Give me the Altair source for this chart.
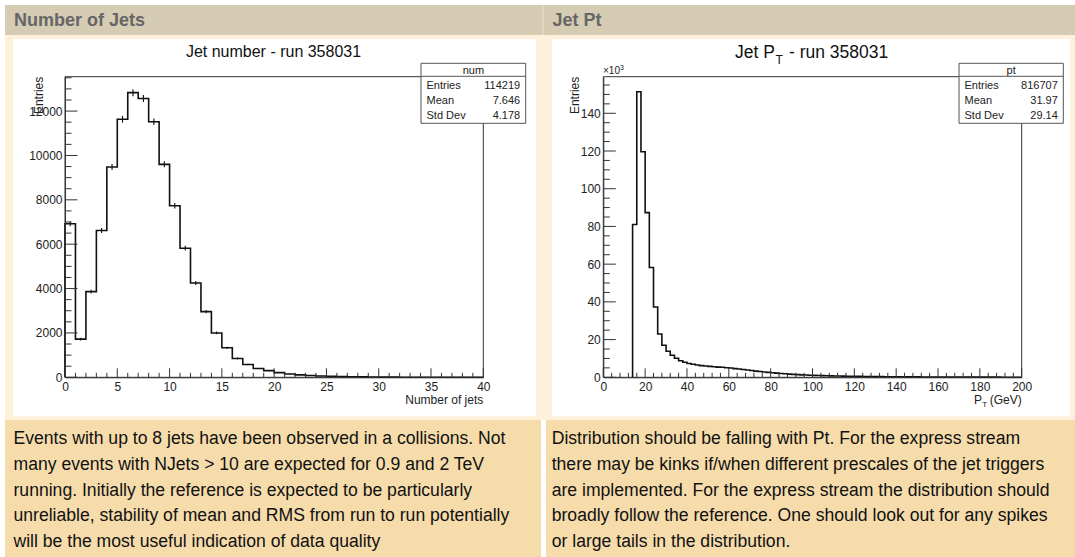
import altair as alt
import pandas as pd

W, H = 1075, 557
FONT = "Liberation Sans"

# ------------------------------------------------------------------ data
# Number of jets: 40 bins of width 1 from 0 to 40
njet_counts = [6920, 1720, 3860, 6620, 9480, 11630, 12830, 12570, 11520, 9600,
               7730, 5820, 4250, 2960, 2000, 1330, 850, 580, 400, 300,
               210, 150, 110, 80, 60, 45, 33, 25, 18, 13,
               10, 7, 5, 4, 3, 2, 2, 1, 1, 1]
njet_first_edge = 0
njet_bin_width = 1

# Jet pT: bins of width 2 GeV from 14 to 200, entries in units of 10^3
pt_counts = [81.0, 151.4, 119.6, 87.3, 58.2, 37.3, 23.0, 17.0, 13.8, 11.7,
             10.1, 8.8, 8.0, 7.3, 6.9, 6.5, 6.2, 6.0, 5.8, 5.6,
             5.4, 5.3, 5.1, 4.9, 4.6, 4.4, 4.1, 3.9, 3.6, 3.3,
             3.1, 2.8, 2.6, 2.4, 2.2, 2.0, 1.85, 1.7, 1.55, 1.42,
             1.3, 1.2, 1.1, 1.0, 0.93, 0.87, 0.81, 0.76, 0.71, 0.66,
             0.62, 0.58, 0.55, 0.51, 0.48, 0.45, 0.42, 0.40, 0.37, 0.35,
             0.33, 0.31, 0.29, 0.27, 0.26, 0.24, 0.23, 0.21, 0.20, 0.19,
             0.18, 0.17, 0.16, 0.15, 0.14, 0.13, 0.125, 0.12, 0.11, 0.105,
             0.10, 0.095, 0.09, 0.085, 0.08, 0.078, 0.074, 0.07, 0.066, 0.063,
             0.06, 0.057, 0.054]
pt_first_edge = 14
pt_bin_width = 2

njet_x_major = [0, 5, 10, 15, 20, 25, 30, 35, 40]
njet_x_minor = [v for v in range(0, 41) if v % 5]
njet_y_major = [0, 2000, 4000, 6000, 8000, 10000, 12000]
njet_y_minor = [v for v in range(0, 13501, 500) if v % 2000]
pt_x_major = [0, 20, 40, 60, 80, 100, 120, 140, 160, 180, 200]
pt_x_minor = [v for v in range(0, 201, 4) if v % 20]
pt_y_major = [0, 20, 40, 60, 80, 100, 120, 140]
pt_y_minor = [v for v in range(0, 156, 5) if v % 20]

stat_names = ["Entries", "Mean", "Std Dev"]
njet_stat_values = ["114219", "7.646", "4.178"]
pt_stat_values = ["816707", "31.97", "29.14"]

desc_left = [
    "Events with up to 8 jets have been observed in a collisions. Not",
    "many events with NJets > 10 are expected for 0.9 and 2 TeV",
    "running. Initially the reference is expected to be particularly",
    "unreliable, stability of mean and RMS from run to run potentially",
    "will be the most useful indication of data quality",
]
desc_right = [
    "Distribution should be falling with Pt. For the express stream",
    "there may be kinks if/when different prescales of the jet triggers",
    "are implemented. For the express stream the distribution should",
    "broadly follow the reference. One should look out for any spikes",
    "or large tails in the distribution.",
]

# ------------------------------------------------------------------ helpers
DUMMY = pd.DataFrame({"d": [0]})


def box(x1, x2, y1, y2, fill=None, stroke=None, sw=1.0):
    kw = {"fill": fill if fill is not None else "transparent"}
    if stroke is not None:
        kw["stroke"] = stroke
        kw["strokeWidth"] = sw
    return alt.Chart(DUMMY).mark_rect(**kw).encode(
        x=alt.value(x1), x2=alt.value(x2), y=alt.value(y1), y2=alt.value(y2))


def hline(x1, x2, y, color="#333", sw=1.0):
    return alt.Chart(DUMMY).mark_rule(color=color, strokeWidth=sw).encode(
        x=alt.value(x1), x2=alt.value(x2), y=alt.value(y))


def txt(s, x, y, size, align="left", baseline="alphabetic", color="#111",
        weight="normal", angle=0):
    kw = dict(text=s, fontSize=size, font=FONT, align=align,
              baseline=baseline, color=color, fontWeight=weight)
    if angle:
        kw["angle"] = angle
    return alt.Chart(DUMMY).mark_text(**kw).encode(
        x=alt.value(x), y=alt.value(y))


def step_frame(counts, first, width):
    n = len(counts)
    xs = [first] + [first + i * width for i in range(n)] + [first + n * width]
    ys = [0] + list(counts) + [counts[-1]]
    return pd.DataFrame({"x": xs, "y": ys, "o": list(range(n + 2))})


def histogram(counts, first, width, xdom, xr, ydom, yr, xmaj, xmin, ymaj, ymin,
              errors):
    x0, x1 = xr
    ybot, ytop = yr
    xs = alt.Scale(domain=xdom, range=list(xr), nice=False, zero=False)
    ys = alt.Scale(domain=ydom, range=list(yr), nice=False, zero=False)
    layers = []
    # frame
    layers.append(box(x0, x1, ytop, ybot, stroke="#333", sw=1))
    # histogram outline
    layers.append(
        alt.Chart(step_frame(counts, first, width))
        .mark_line(interpolate="step-after", color="#111", strokeWidth=1.6)
        .encode(
            x=alt.X("x:Q", scale=xs, axis=alt.Axis(
                orient="bottom", offset=ybot - H, values=xmaj, ticks=False,
                tickSize=0, domainColor="#333", labelFont=FONT,
                labelFontSize=12, labelColor="#222", labelPadding=4,
                title=None, grid=False, labelFlush=False, format="d",
                zindex=2)),
            y=alt.Y("y:Q", scale=ys, axis=alt.Axis(
                orient="left", offset=-x0, values=ymaj, ticks=False,
                tickSize=0, domainColor="#333", labelFont=FONT,
                labelFontSize=12, labelColor="#222", labelPadding=3,
                title=None, grid=False, labelFlush=False, format="d",
                zindex=2)),
            order="o:Q",
        )
    )
    if errors:
        centers = [first + (i + 0.5) * width for i in range(len(counts))]
        edf = pd.DataFrame({"xc": centers, "c": counts})
        layers.append(
            alt.Chart(edf)
            .transform_calculate(lo="datum.c - 1.4*sqrt(datum.c)",
                                 hi="datum.c + 1.4*sqrt(datum.c)")
            .mark_rule(color="#111", strokeWidth=1.1)
            .encode(x=alt.X("xc:Q", scale=xs, axis=None),
                    y=alt.Y("lo:Q", scale=ys, axis=None), y2="hi:Q")
        )
    # ticks drawn inward (ROOT style)
    for vals, ln in ((xmaj, 9), (xmin, 4.5)):
        layers.append(
            alt.Chart(pd.DataFrame({"v": vals}))
            .mark_rule(color="#333", strokeWidth=1)
            .encode(x=alt.X("v:Q", scale=xs, axis=None),
                    y=alt.value(ybot), y2=alt.value(ybot - ln)))
    for vals, ln in ((ymaj, 12.5), (ymin, 6.5)):
        layers.append(
            alt.Chart(pd.DataFrame({"v": vals}))
            .mark_rule(color="#333", strokeWidth=1)
            .encode(y=alt.Y("v:Q", scale=ys, axis=None),
                    x=alt.value(x0), x2=alt.value(x0 + ln)))
    return layers


def stats_box(name, values, bx0, bx1, by0, by1):
    layers = [box(bx0, bx1, by0, by1, fill="white", stroke="#555", sw=1),
              hline(bx0, bx1, by0 + 13, color="#555"),
              txt(name, (bx0 + bx1) / 2, by0 + 7.2, 11, align="center",
                  baseline="middle", color="#222")]
    for k, (nm, v) in enumerate(zip(stat_names, values)):
        yy = by0 + 23 + 15 * k
        layers.append(txt(nm, bx0 + 5.5, yy, 11, baseline="middle", color="#222"))
        layers.append(txt(v, bx1 - 5.5, yy, 11, align="right",
                          baseline="middle", color="#222"))
    return layers


# ------------------------------------------------------------------ page
HEADER = "#d6cbb3"
CREAM = "#fdf1db"
DESC = "#f6dcab"

layers = [
    box(5, 1075, 5, 35, fill=HEADER),
    box(542.5, 544, 5, 35, fill="#e2d9c6"),
    box(5, 1075, 35, 420, fill=CREAM),
    box(13, 536, 39, 416, fill="white"),
    box(552, 1070, 39, 416, fill="white"),
    box(5, 541, 420, 557, fill=DESC),
    box(546, 1075, 420, 557, fill=DESC),
    txt("Number of Jets", 14, 20.5, 18, baseline="middle", color="#666",
        weight="bold"),
    txt("Jet Pt", 552.5, 20.5, 18, baseline="middle", color="#666",
        weight="bold"),
]
for k, line in enumerate(desc_left):
    layers.append(txt(line, 13.5, 444.3 + 25.7 * k, 17.6))
for k, line in enumerate(desc_right):
    layers.append(txt(line, 551.7, 444.3 + 25.7 * k, 17.6))

# ---- left plot
LX = (65, 483.3)
LY = (377.3, 76.7)
layers += histogram(njet_counts, njet_first_edge, njet_bin_width, [0, 40], LX,
                    [0, 13550], LY, njet_x_major, njet_x_minor,
                    njet_y_major, njet_y_minor, errors=True)
layers += stats_box("num", njet_stat_values, 421, 525.7, 63.3, 123.3)
layers += [
    txt("Jet number - run 358031", 273.5, 56.5, 16, align="center"),
    txt("Entries", 38.5, 76.7, 12, align="right", baseline="middle",
        angle=270, color="#222"),
    txt("Number of jets", 483.3, 403.5, 12, align="right", color="#222"),
]

# ---- right plot
RX = (603.3, 1021.7)
RY = (377.3, 76.7)
layers += histogram(pt_counts, pt_first_edge, pt_bin_width, [0, 200], RX,
                    [0, 159.4], RY, pt_x_major, pt_x_minor,
                    pt_y_major, pt_y_minor, errors=False)
layers += stats_box("pt", pt_stat_values, 959, 1063.3, 63.3, 123.3)
layers += [
    txt("Jet P", 735, 58, 17.5),
    txt("T", 775.5, 63.5, 12),
    txt("- run 358031", 789, 58, 17.5),
    txt("Entries", 574.5, 76.7, 12, align="right", baseline="middle",
        angle=270, color="#222"),
    txt("\u00d710", 603, 74, 10, color="#222"),
    txt("3", 620, 69.5, 7, color="#222"),
    txt("P", 974, 403.5, 12, color="#222"),
    txt("T", 982.3, 406.5, 8, color="#222"),
    txt("(GeV)", 1021.7, 403.5, 12, align="right", color="#222"),
]

chart = (
    alt.layer(*layers)
    .resolve_scale(x="independent", y="independent")
    .properties(width=W, height=H, padding=0,
                autosize=alt.AutoSizeParams(type="none"),
                background="white")
    .configure_view(stroke=None)
)

chart.save("out.html", embed_options={"renderer": "svg", "actions": False})
